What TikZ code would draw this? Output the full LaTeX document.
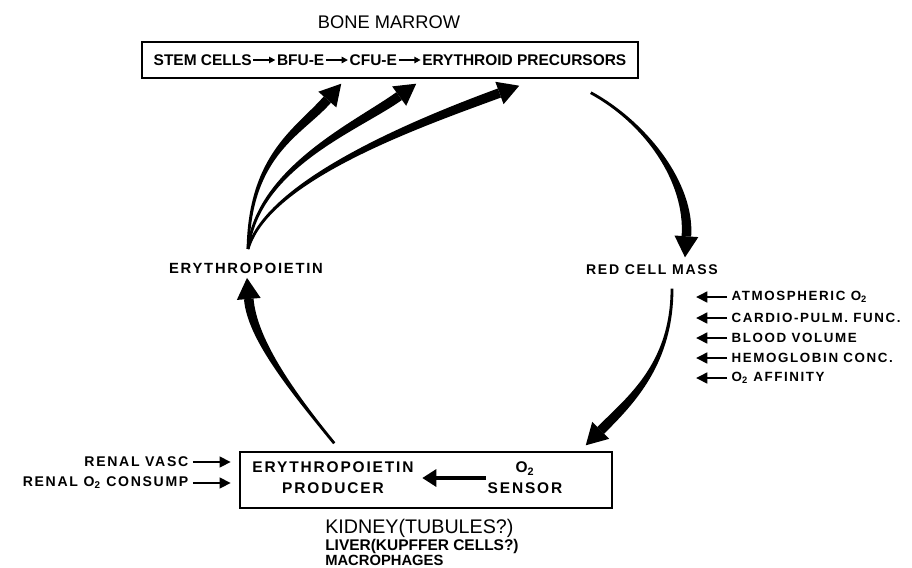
\documentclass[tikz,border=0pt]{standalone}
\usepackage{fontspec}
\setmainfont{Liberation Sans}
\newfontfamily\spaced[LetterSpace=12]{Liberation Sans}
\usetikzlibrary{positioning,arrows.meta,calc}
% tapered arrow: start, first control, second control, tip (all named)
\newcommand{\taperarrow}[4]{%
  \coordinate (tp-e) at ($(#4)!15pt!(#3)$);
  \coordinate (tp-sl) at ($(#1)!1pt!90:(#2)$);
  \coordinate (tp-sr) at ($(#1)!1pt!-90:(#2)$);
  \coordinate (tp-al) at ($(#2)+(tp-sl)-(#1)$);
  \coordinate (tp-ar) at ($(#2)+(tp-sr)-(#1)$);
  \coordinate (tp-l) at ($(tp-e)!3.4pt!90:(#4)$);
  \coordinate (tp-r) at ($(tp-e)!3.4pt!-90:(#4)$);
  \coordinate (tp-cl) at ($(#3)+(tp-l)-(tp-e)$);
  \coordinate (tp-cr) at ($(#3)+(tp-r)-(tp-e)$);
  \fill (tp-sl) .. controls (tp-al) and (tp-cl) .. (tp-l) -- (tp-r) .. controls (tp-cr) and (tp-ar) .. (tp-sr) -- cycle;
  \fill ($(tp-e)!8.5pt!90:(#4)$) -- (#4) -- ($(tp-e)!8.5pt!-90:(#4)$) -- cycle;}

\begin{document}
\begin{tikzpicture}[x=0.025cm,y=-0.025cm,
  link/.style={line width=1.1pt,-{Triangle[length=4.5pt,width=4.5pt]}},
  cue/.style={line width=1.9pt,-{Triangle[length=8pt,width=7.5pt]}},
  frame/.style={draw,line width=1pt,inner sep=0pt},
  cell/.style={font=\bfseries\fontsize{11}{15}\selectfont,inner sep=1pt,align=center},
  lbl/.style={font=\spaced\bfseries\fontsize{9.5}{11}\selectfont,inner sep=1pt}]
\useasboundingbox (0,0) rectangle (912,567);
% bone marrow and its lineage
\node[font=\fontsize{13}{15}\selectfont] (bm) at (389,22) {BONE MARROW};
\node[frame,minimum width=12.4cm,minimum height=0.9cm] (marrow) at (390,60) {};
\node[cell,anchor=west] (stem) at (152,60) {STEM CELLS};
\node[cell,right=0.55cm of stem] (bfu) {BFU-E};
\node[cell,right=0.55cm of bfu] (cfu) {CFU-E};
\node[cell,right=0.55cm of cfu] (ery) {ERYTHROID PRECURSORS};
\draw[link] (stem) -- (bfu);
\draw[link] (bfu) -- (cfu);
\draw[link] (cfu) -- (ery);
% the two states on the loop
\node[lbl,font=\spaced\bfseries\fontsize{10.5}{12}\selectfont] (epo) at (246,268) {ERYTHROPOIETIN};
\node[lbl,font=\spaced\bfseries\fontsize{10}{12}\selectfont] (rcm) at (652,270) {RED CELL MASS};
% kidney: producer and sensor
\node[frame,minimum width=9.3cm,minimum height=1.4cm] (kbox) at (426,480) {};
\node[cell,font=\spaced\bfseries\fontsize{11}{15}\selectfont] (producer) at (333,478) {ERYTHROPOIETIN\\PRODUCER};
\node[cell,font=\spaced\bfseries\fontsize{11}{15}\selectfont] (sensor) at (525,478) {O\textsubscript{2}\\SENSOR};
\draw[line width=3.4pt,-{Triangle[length=10pt,width=12pt]},shorten >=5pt] (sensor.west) -- (sensor.west -| producer.east);
% erythropoietin acts on three stages
\coordinate (fan) at (248,249);
\coordinate (bfuin) at ($(marrow.south west)+(200,5)$);
\coordinate (cfuin) at ($(marrow.south west)+(275,5)$);
\coordinate (eryin) at ($(marrow.south west)+(378,7)$);
\coordinate (bfua) at ($(fan)+(2,-95)$);
\coordinate (cfua) at ($(fan)+(10,-82)$);
\coordinate (erya) at ($(fan)+(20,-70)$);
\coordinate (bfuc) at ($(bfuin)+(-42,48)$);
\coordinate (cfuc) at ($(cfuin)+(-58,42)$);
\coordinate (eryc) at ($(eryin)+(-95,35)$);
\taperarrow{fan}{bfua}{bfuc}{bfuin}
\taperarrow{fan}{cfua}{cfuc}{cfuin}
\taperarrow{fan}{erya}{eryc}{eryin}
% marrow output, sensing, feedback
\coordinate (out) at ($(marrow.south east)+(-48,14)$);
\coordinate (outa) at ($(out)+(55,30)$);
\coordinate (rcmin) at ($(rcm.north)+(33,-6)$);
\coordinate (rcmc) at ($(rcmin)+(5,-75)$);
\taperarrow{out}{outa}{rcmc}{rcmin}
\coordinate (rcmout) at ($(rcm.south)+(20,12)$);
\coordinate (rcma) at ($(rcmout)+(0,75)$);
\coordinate (sensin) at ($(kbox.north east)+(-27,-6)$);
\coordinate (sensc) at ($(sensin)+(45,-45)$);
\taperarrow{rcmout}{rcma}{sensc}{sensin}
\coordinate (prodout) at ($(kbox.north west)+(95,-8)$);
\coordinate (proda) at ($(prodout)+(-45,-55)$);
\coordinate (epoin) at ($(epo.south)+(1,3)$);
\coordinate (epoc) at ($(epoin)+(5,60)$);
\taperarrow{prodout}{proda}{epoc}{epoin}
% what the oxygen sensor sees
\node[lbl,anchor=west] (atm) at (730,297) {ATMOSPHERIC O\textsubscript{2}};
\node[lbl,anchor=west] (cardio) at (730,318) {CARDIO-PULM. FUNC.};
\node[lbl,anchor=west] (blood) at (730,338) {BLOOD VOLUME};
\node[lbl,anchor=west] (hgb) at (730,358) {HEMOGLOBIN CONC.};
\node[lbl,anchor=west] (affin) at (730,378) {O\textsubscript{2} AFFINITY};
\draw[cue] ([xshift=-2pt]atm.west) -- ([xshift=-0.85cm]atm.west);
\draw[cue] ([xshift=-2pt]cardio.west) -- ([xshift=-0.85cm]cardio.west);
\draw[cue] ([xshift=-2pt]blood.west) -- ([xshift=-0.85cm]blood.west);
\draw[cue] ([xshift=-2pt]hgb.west) -- ([xshift=-0.85cm]hgb.west);
\draw[cue] ([xshift=-2pt]affin.west) -- ([xshift=-0.85cm]affin.west);
% renal inputs
\node[lbl,font=\spaced\bfseries\fontsize{10}{12}\selectfont,anchor=east] (vasc) at (190,462) {RENAL VASC};
\node[lbl,font=\spaced\bfseries\fontsize{10}{12}\selectfont,anchor=east] (consump) at (190,483) {RENAL O\textsubscript{2} CONSUMP};
\draw[cue,shorten <=2pt,shorten >=6pt] (vasc) -- (vasc -| kbox.west);
\draw[cue,shorten <=2pt,shorten >=6pt] (consump) -- (consump -| kbox.west);
% production sites
\node[anchor=base west,inner sep=0pt,font=\fontsize{14}{16}\selectfont] (kid) at (325,533) {KIDNEY(TUBULES?)};
\node[anchor=base west,inner sep=0pt,font=\bfseries\fontsize{11}{12}\selectfont] (liv) at (325,550) {LIVER(KUPFFER CELLS?)};
\node[anchor=base west,inner sep=0pt,font=\bfseries\fontsize{10.5}{12}\selectfont] (mac) at (325,565) {MACROPHAGES};
\end{tikzpicture}
\end{document}
